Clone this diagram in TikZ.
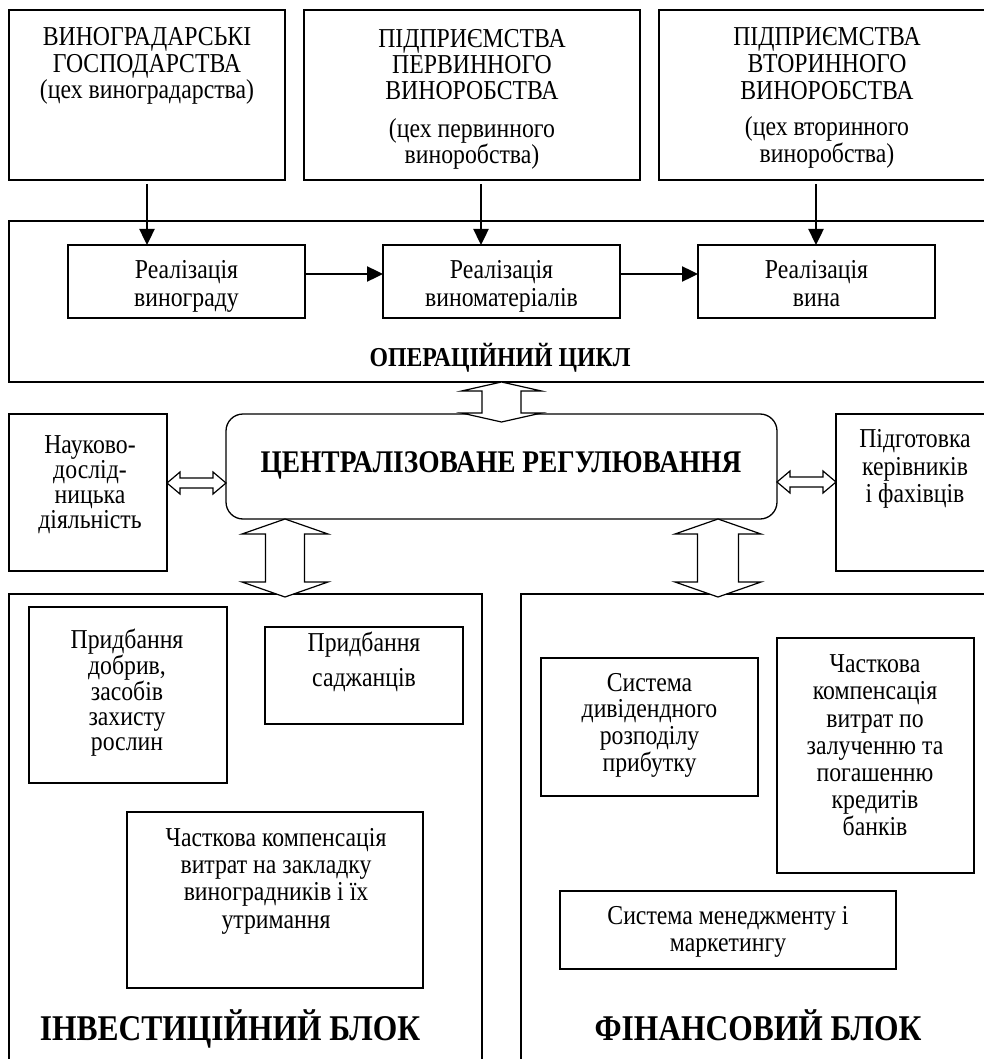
\documentclass[tikz,border=0pt]{standalone}
\usepackage{fontspec}
\setmainfont{Liberation Serif}[FakeStretch=0.87]
\usetikzlibrary{arrows.meta,calc}
\newcommand{\myvdbl}[5]{%
 \draw[openarrow] (#1) -- ($(#1)+(#3,#4)$) -- ($(#1)+(#5,#4)$) -- ($(#2)+(#5,-#4)$) -- ($(#2)+(#3,-#4)$) -- (#2) -- ($(#2)+(-#3,-#4)$) -- ($(#2)+(-#5,-#4)$) -- ($(#1)+(-#5,#4)$) -- ($(#1)+(-#3,#4)$) -- cycle;}
\newcommand{\myhdbl}[5]{%
 \draw[openarrow] (#1) -- ($(#1)+(#4,-#3)$) -- ($(#1)+(#4,-#5)$) -- ($(#2)+(-#4,-#5)$) -- ($(#2)+(-#4,-#3)$) -- (#2) -- ($(#2)+(-#4,#3)$) -- ($(#2)+(-#4,#5)$) -- ($(#1)+(#4,#5)$) -- ($(#1)+(#4,#3)$) -- cycle;}
\begin{document}
\begin{tikzpicture}[x=1pt,y=-1pt,
  box/.style={draw, line width=1.3pt, inner sep=0pt, outer sep=0pt},
  txt/.style={align=center, inner sep=0pt, font=\fontsize{27.3}{#1}\selectfont},
  txt/.default=27.3,
  ttl/.style={inner sep=0pt, anchor=base, font=\fontsize{#1}{#1}\selectfont\bfseries},
  thickarrow/.style={line width=2.4pt, -{Triangle[length=16pt,width=15pt]}},
  openarrow/.style={draw, line width=1.2pt, fill=white, line join=miter},
]
\useasboundingbox (0,0) rectangle (984,1059);
\clip (0,0) rectangle (984,1059);

% top boxes
\node[box, minimum width=276pt, minimum height=170pt] (tb1) at (147,95) {};
\node[box, minimum width=336pt, minimum height=170pt] (tb2) at (472,95) {};
\node[box, minimum width=336pt, minimum height=170pt] (tb3) at (827,95) {};
% operational cycle
\node[box, minimum width=986pt, minimum height=161pt] (op) at (502,301.5) {};
\node[box, minimum width=237pt, minimum height=73pt] (rs1) at (186.5,281.5) {};
\node[box, minimum width=237pt, minimum height=73pt] (rs2) at (501.5,281.5) {};
\node[box, minimum width=237pt, minimum height=73pt] (rs3) at (816.5,281.5) {};
% middle row
\node[box, rounded corners=17pt, minimum width=551pt, minimum height=105pt] (centre) at (501.5,466.5) {};
\node[box, minimum width=158pt, minimum height=157pt] (lbox) at (88,492.5) {};
\node[box, minimum width=158pt, minimum height=157pt] (rbox) at (915,492.5) {};
% bottom blocks
\node[box, minimum width=473pt, minimum height=476pt] (inv) at (245.5,832) {};
\node[box, minimum width=474pt, minimum height=476pt] (fin) at (758,832) {};
\node[box, minimum width=198pt, minimum height=176pt] (ib1) at (128,695) {};
\node[box, minimum width=198pt, minimum height=97pt] (ib2) at (364,675.5) {};
\node[box, minimum width=296pt, minimum height=176pt] (ib3) at (275,900) {};
\node[box, minimum width=217pt, minimum height=138pt] (fb1) at (649.5,727) {};
\node[box, minimum width=197pt, minimum height=235pt] (fb2) at (875.5,755.5) {};
\node[box, minimum width=336pt, minimum height=78pt] (fb3) at (728,930) {};

% texts
\node[txt=26.5] (t1) at (147,66) {ВИНОГРАДАРСЬКІ\\ГОСПОДАРСТВА\\(цех виноградарства)};
\node[txt=26] (t2) at (472,99) {ПІДПРИЄМСТВА\\ПЕРВИННОГО\\ВИНОРОБСТВА\\[12pt](цех первинного\\виноробства)};
\node[txt=27] (t3) at (827,98) {ПІДПРИЄМСТВА\\ВТОРИННОГО\\ВИНОРОБСТВА\\[8.6pt](цех вторинного\\виноробства)};
\node[txt=28] (r1) at (186.5,286) {Реалізація\\винограду};
\node[txt=28] (r2) at (501.5,286) {Реалізація\\виноматеріалів};
\node[txt=28] (r3) at (816.5,286) {Реалізація\\вина\vphantom{у}};
\node[ttl=27.3] (opl) at (500,366) {ОПЕРАЦІЙНИЙ ЦИКЛ};
\node[ttl=31.5] (cl) at (501,472.4) {ЦЕНТРАЛІЗОВАНЕ РЕГУЛЮВАННЯ};
\node[txt=25] (lt) at (90,484.5) {Науково-\\дослід-\\ницька\\діяльність};
\node[txt=27.5] (rt) at (915,469) {Підготовка\\керівників\\і фахівців};
\node[txt=25] (i1) at (127,692.7) {Придбання\\добрив,\\засобів\\захисту\\рослин};
\node[txt=35] (i2) at (364,662) {Придбання\\саджанців};
\node[txt=27.3] (i3) at (276,881) {Часткова компенсація\\витрат на закладку\\виноградників і їх\\утримання};
\node[ttl=36.2] (il) at (230,1040) {ІНВЕСТИЦІЙНИЙ БЛОК};
\node[txt=26.7] (f1) at (649.5,725) {Система\\дивідендного\\розподілу\\прибутку};
\node[txt=27.2] (f2) at (875,745.5) {Часткова\\компенсація\\витрат по\\залученню та\\погашенню\\кредитів\\банків};
\node[txt=27] (f3) at (728,931.5) {Система менеджменту і\\маркетингу};
\node[ttl=36.2] (fl) at (758,1040) {ФІНАНСОВИЙ БЛОК};

% thick arrows
\coordinate (x1) at (147,0);
\coordinate (x2) at (481,0);
\coordinate (x3) at (816,0);
\coordinate (hy) at (0,274);
\draw[thickarrow, shorten <=4pt] (tb1.south -| x1) -- (rs1.north -| x1);
\draw[thickarrow, shorten <=4pt] (tb2.south -| x2) -- (rs2.north -| x2);
\draw[thickarrow, shorten <=4pt] (tb3.south -| x3) -- (rs3.north -| x3);
\draw[thickarrow] (rs1.east |- hy) -- (rs2.west |- hy);
\draw[thickarrow] (rs2.east |- hy) -- (rs3.west |- hy);

% open double arrows
\coordinate (ct) at (op.south -| centre.north);
\coordinate (cb) at ($(centre.north)+(0,8)$);
\myvdbl{ct}{cb}{40}{9}{19.5}
\coordinate (hy1) at (0,483);
\coordinate (hy2) at (0,482);
\coordinate (hl1) at (lbox.east |- hy1);
\coordinate (hl2) at (centre.west |- hy1);
\myhdbl{hl1}{hl2}{11}{13}{5}
\coordinate (hr1) at (centre.east |- hy2);
\coordinate (hr2) at (rbox.west |- hy2);
\myhdbl{hr1}{hr2}{11}{13}{5}
\coordinate (bx1) at (285,0);
\coordinate (bx2) at (718,0);
\coordinate (bl1) at (centre.south -| bx1);
\coordinate (bl2) at ($(inv.north -| bx1)+(0,3)$);
\myvdbl{bl1}{bl2}{43}{15}{19.5}
\coordinate (br1) at (centre.south -| bx2);
\coordinate (br2) at ($(fin.north -| bx2)+(0,3)$);
\myvdbl{br1}{br2}{43}{15}{20.5}
\end{tikzpicture}
\end{document}
